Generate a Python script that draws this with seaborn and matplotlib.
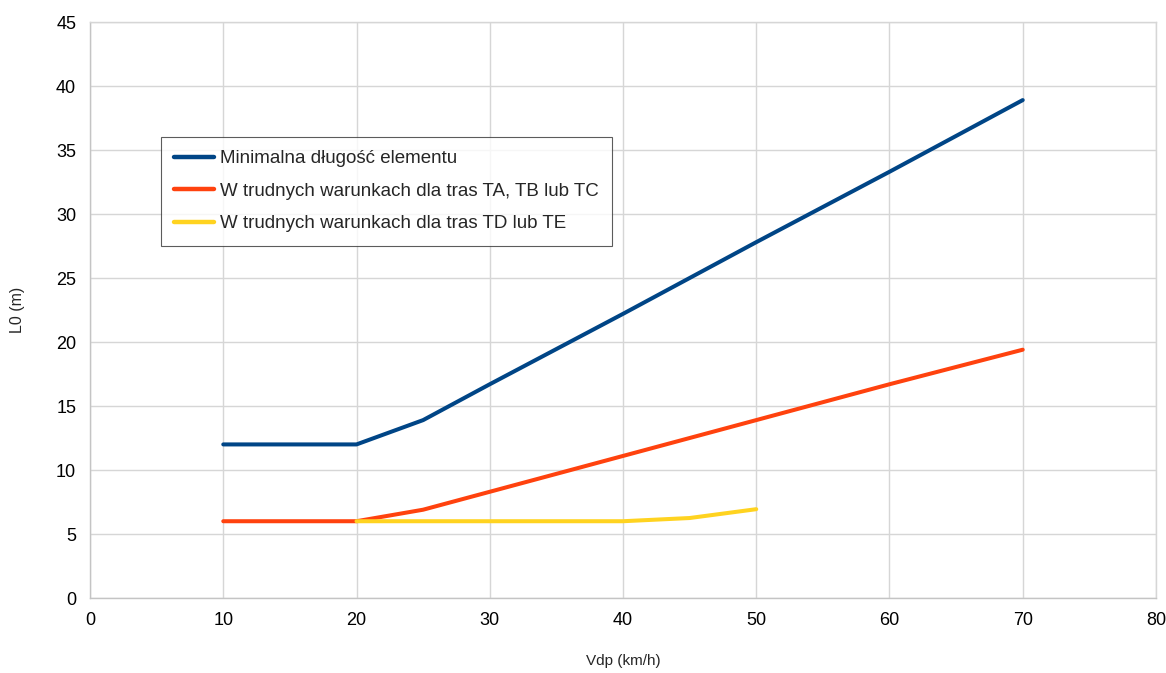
import pandas as pd
import matplotlib
matplotlib.use("Agg")
import matplotlib.pyplot as plt
import seaborn as sns

# Data
vdp_main = [10, 20, 25, 30, 40, 50, 60, 70]
l0_min = [12.0, 12.0, 13.9, 16.7, 22.2, 27.8, 33.3, 38.9]
l0_abc = [6.0, 6.0, 6.9, 8.3, 11.1, 13.9, 16.7, 19.4]
vdp_de = [20, 30, 40, 45, 50]
l0_de = [6.0, 6.0, 6.0, 6.25, 6.94]

labels = [
    "Minimalna długość elementu",
    "W trudnych warunkach dla tras TA, TB lub TC",
    "W trudnych warunkach dla tras TD lub TE",
]
colors = ["#004586", "#ff420e", "#ffd320"]

df = pd.concat([
    pd.DataFrame({"Vdp": vdp_main, "L0": l0_min, "series": labels[0]}),
    pd.DataFrame({"Vdp": vdp_main, "L0": l0_abc, "series": labels[1]}),
    pd.DataFrame({"Vdp": vdp_de, "L0": l0_de, "series": labels[2]}),
])

sns.set_theme(style="whitegrid")
plt.rcParams["font.family"] = ["Liberation Sans", "DejaVu Sans"]

fig = plt.figure(figsize=(11.66, 6.73), dpi=100)
ax = fig.add_axes([0.0772, 0.1114, 0.9142, 0.8559])

sns.lineplot(data=df, x="Vdp", y="L0", hue="series", hue_order=labels,
             palette=colors, linewidth=2.9, ax=ax, sort=False)

ax.set_xlim(0, 80)
ax.set_ylim(0, 45)
ax.set_xticks(range(0, 81, 10))
ax.set_yticks(range(0, 46, 5))
ax.grid(True, color="#d6d6d6", linewidth=1.0)
for s in ax.spines.values():
    s.set_color("#c4c4c4")
    s.set_linewidth(1.0)
ax.spines["top"].set_color("#d6d6d6")
ax.spines["right"].set_color("#d6d6d6")
ax.tick_params(axis="both", labelsize=13, colors="black", length=6,
               color="#c4c4c4", width=1.0, pad=4)
ax.set_xlabel("Vdp (km/h)", fontsize=11, labelpad=18)
ax.set_ylabel("L0 (m)", fontsize=11.5, labelpad=22)

leg = ax.legend(loc="upper left", bbox_to_anchor=(0.0666, 0.80), fontsize=13.5,
                frameon=True, fancybox=False, handlelength=2.1,
                borderpad=0.7, labelspacing=0.82, handletextpad=0.35,
                borderaxespad=0)
leg.get_frame().set_edgecolor("#333333")
leg.get_frame().set_linewidth(0.8)
for h in leg.get_lines():
    h.set_linewidth(3.2)

fig.savefig("out.png", dpi=100)
